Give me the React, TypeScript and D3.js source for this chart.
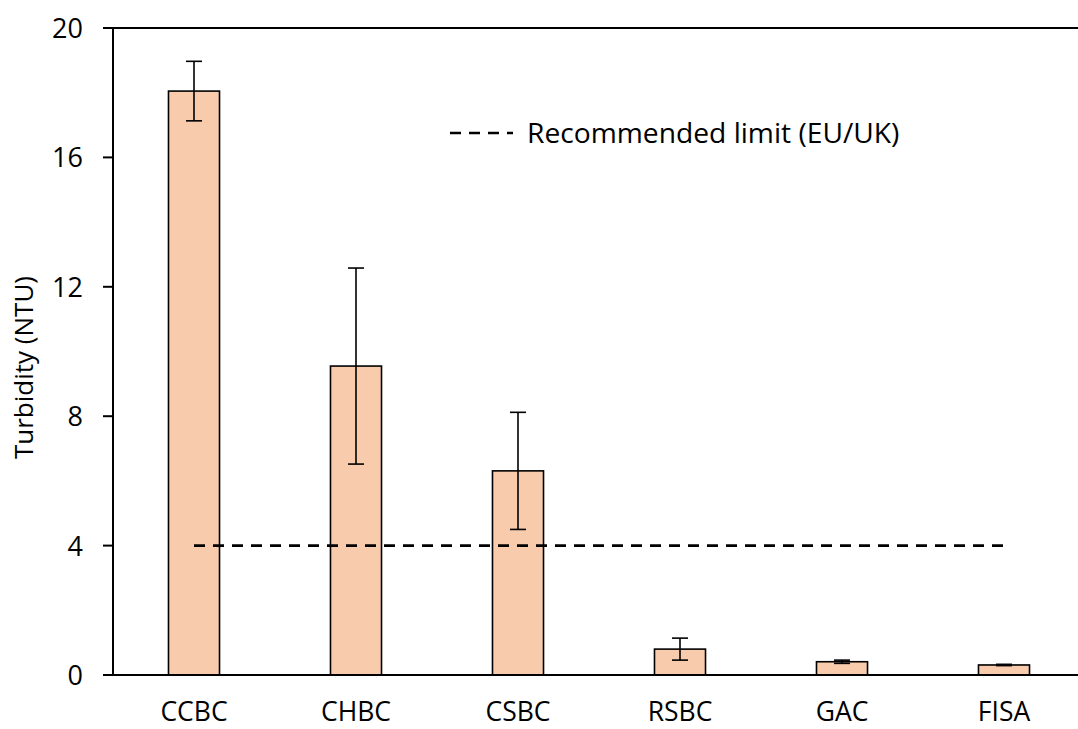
import React from "react";
import * as d3 from "d3";

const categories = ["CCBC", "CHBC", "CSBC", "RSBC", "GAC", "FISA"];
const turbidity = [18.05, 9.55, 6.31, 0.8, 0.41, 0.31];
const turbidityErr = [0.92, 3.03, 1.81, 0.34, 0.05, 0.02];
const yTicks = [0, 4, 8, 12, 16, 20];
const limitValue = 4;
const limitLabel = "Recommended limit (EU/UK)";

const W = 1078;
const H = 729;
const left = 113;
const right = 1085;
const top = 28;
const bottom = 675;
const font = "'Open Sans', 'Liberation Sans', sans-serif";

export default function App() {
  const x = d3.scaleBand<string>().domain(categories).range([left, right]).paddingInner(0.685).paddingOuter(0.3425);
  const y = d3.scaleLinear().domain([0, 20]).range([bottom, top]);
  const bw = x.bandwidth();
  const cx = (c: string) => (x(c) as number) + bw / 2;
  const capW = 8;

  return (
    <svg width={W} height={H} style={{ position: "absolute", left: 0, top: 0 }} fontFamily={font}>
      <rect x={0} y={0} width={W} height={H} fill="#fff" />
      {/* bars */}
      {categories.map((c, i) => (
        <rect key={c} x={x(c)} y={y(turbidity[i])} width={bw} height={y(0) - y(turbidity[i])}
          fill="#F8CBAD" stroke="#000" strokeWidth={1.6} />
      ))}
      {/* error bars */}
      {categories.map((c, i) => {
        const hi = y(turbidity[i] + turbidityErr[i]);
        const lo = y(turbidity[i] - turbidityErr[i]);
        const m = cx(c);
        return (
          <g key={c + "e"} stroke="#000" strokeWidth={1.6}>
            <line x1={m} x2={m} y1={hi} y2={lo} />
            <line x1={m - capW} x2={m + capW} y1={hi} y2={hi} />
            <line x1={m - capW} x2={m + capW} y1={lo} y2={lo} />
          </g>
        );
      })}
      {/* recommended limit */}
      <line x1={cx(categories[0])} x2={cx(categories[categories.length - 1])} y1={y(limitValue)} y2={y(limitValue)}
        stroke="#000" strokeWidth={2.6} strokeDasharray="11 8" />
      {/* axes */}
      <line x1={left} x2={W} y1={top} y2={top} stroke="#000" strokeWidth={2} />
      <line x1={left} x2={left} y1={top} y2={bottom} stroke="#000" strokeWidth={2} />
      <line x1={left - 10} x2={W} y1={bottom} y2={bottom} stroke="#000" strokeWidth={2} />
      {yTicks.map((t) => (
        <g key={t}>
          <line x1={left - 10} x2={left} y1={y(t)} y2={y(t)} stroke="#000" strokeWidth={2} />
          <text x={83} y={y(t) + 10} textAnchor="end" fontSize={27} fill="#000">{t}</text>
        </g>
      ))}
      {categories.map((c) => (
        <text key={c + "l"} x={cx(c)} y={721} textAnchor="middle" fontSize={26.5} fill="#000">{c}</text>
      ))}
      <text transform={`translate(33,${(top + bottom) / 2 + 16}) rotate(-90)`} textAnchor="middle" fontSize={26} fill="#000">
        Turbidity (NTU)
      </text>
      {/* legend */}
      <line x1={450} x2={513} y1={133} y2={133} stroke="#000" strokeWidth={2.6} strokeDasharray="11 8" />
      <text x={527} y={143} fontSize={28.2} fill="#000">{limitLabel}</text>
    </svg>
  );
}
